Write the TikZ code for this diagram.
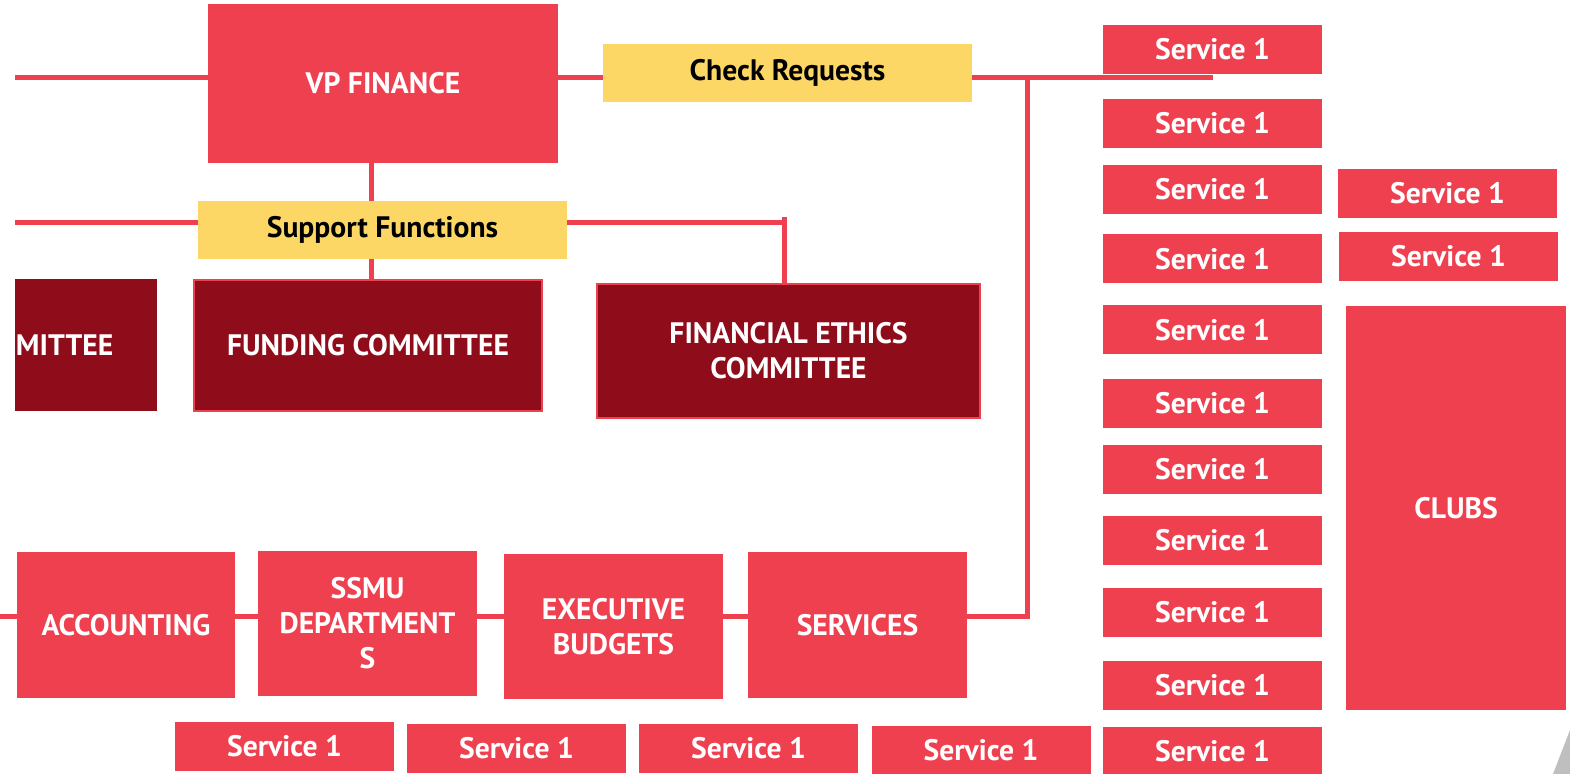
\documentclass[tikz,border=0pt]{standalone}
\usepackage{fontspec}
\setmainfont{PT Sans}
\definecolor{finred}{HTML}{EF4050}
\definecolor{findark}{HTML}{8F0D1A}
\definecolor{finyellow}{HTML}{FCD766}
\tikzset{
	sz/.style 2 args = {minimum width = #1*0.5pt, minimum height = #2*0.5pt},
	redbox/.style = {fill = finred, text = white, inner sep = 0pt, align = center,
		font = \bfseries\fontsize{14.8}{17.5}\selectfont},
	darkbox/.style = {redbox, fill = findark},
	yellowbox/.style = {redbox, fill = finyellow, text = black},
	svc/.style = {redbox, sz = {219}{49}},
	link/.style = {draw = finred, line width = 2.5pt}
}

\begin{document}
\begin{tikzpicture}[x = 0.5pt, y = -0.5pt]
		\useasboundingbox (0,0) rectangle (1570,774);
		
		% top of the tree
		\node [redbox, sz = {350}{159}] (vp) at (383,83.5) {VP FINANCE};
		\node [yellowbox, sz = {369}{58}] (chk) at (787.5,73) {Check Requests};
		\node [yellowbox, sz = {369}{58}] (sup) at (382.5,230) {Support Functions};
		
		% committees
		\node [darkbox, sz = {142}{132}, text width = 70pt, align = left] (mit) at (86,345) {MITTEE};
		\node [darkbox, sz = {348}{131}, draw = finred, line width = 1pt] (fund) at (368,345.5) {FUNDING COMMITTEE};
		\node [darkbox, sz = {383}{134}, draw = finred, line width = 1pt] (eth) at (788.5,351) {FINANCIAL ETHICS\\COMMITTEE};
		
		% bottom row
		\node [redbox, sz = {218}{146}] (acc) at (126,625) {ACCOUNTING};
		\node [redbox, sz = {219}{145}] (ssmu) at (367.5,623.5) {SSMU\\DEPARTMENT\\S};
		\node [redbox, sz = {219}{145}] (exe) at (613.5,626.5) {EXECUTIVE\\BUDGETS};
		\node [redbox, sz = {219}{146}] (srv) at (857.5,625) {SERVICES};
		
		\foreach \x/\y [count = \i] in {284.5/746.5, 516.5/748.5, 748.5/748.5, 981/750.5}
			\node [svc] (b\i) at (\x,\y) {Service 1};
		
		% services column
		\foreach \y [count = \i] in {49.5, 123.5, 189.5, 259, 330, 403.5, 469.5, 540.5, 612.5, 685.5, 751.5}
			\node [svc] (s\i) at (1212.5,\y) {Service 1};
		\node [svc] (t1) at (1447.5,193.5) {Service 1};
		\node [svc] (t2) at (1448.5,256.5) {Service 1};
		\node [redbox, sz = {220}{404}] (clubs) at (1456,508) {CLUBS};
		
		\fill [gray!50] (1570,730) -- (1553,774) -- (1570,774) -- cycle;
		
		% connectors
		\coordinate (ltop) at (15,78);
		\coordinate (lsup) at (15,223);
		\coordinate (lbot) at (0,617);
		\coordinate (vx) at (371,0);
		\coordinate (jct) at (1027,78);
		\coordinate (rend) at (1213,78);
		\coordinate (etop) at (784,217);
		
		\begin{scope}[link]
			\draw (ltop) -- (ltop -| vp.west);
			\draw (vp.east |- ltop) -- (chk.west |- ltop);
			\draw (chk.east |- ltop) -- (rend);
			\draw (jct) |- (srv.east |- lbot);
			
			\draw (vp.south -| vx) -- (sup.north -| vx);
			\draw (sup.south -| vx) -- (fund.north -| vx);
			\draw (lsup) -- (lsup -| sup.west);
			\draw (sup.east |- lsup) -- (etop |- lsup);
			\draw (etop) -- (etop |- eth.north);
			
			\draw (lbot) -- (lbot -| acc.west);
			\draw (acc.east |- lbot) -- (ssmu.west |- lbot);
			\draw (ssmu.east |- lbot) -- (exe.west |- lbot);
			\draw (exe.east |- lbot) -- (srv.west |- lbot);
		\end{scope}
	\end{tikzpicture}
\end{document}
